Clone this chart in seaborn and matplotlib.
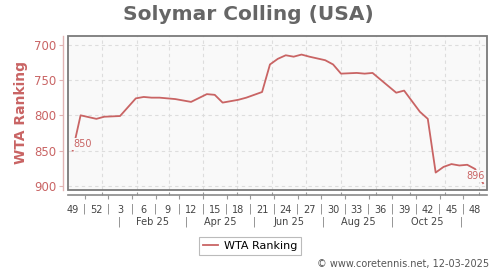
import numpy as np
import pandas as pd
import matplotlib
matplotlib.use("Agg")
import matplotlib.pyplot as plt
import matplotlib.transforms as mtransforms
from matplotlib.patches import Rectangle
from matplotlib.lines import Line2D
import seaborn as sns

# ---------------- data ----------------
player = "Solymar Colling (USA)"
start_date = "2024-12-06"          # week 49 of 2024
week_offsets = [0, 1, 3, 4, 6, 8, 9, 10, 11, 13, 15, 17, 18, 19, 21, 22, 24, 25,
                26, 27, 28, 29, 30, 32, 33, 34, 36, 37, 38, 41, 42, 44, 45, 46,
                47, 48, 49, 50, 51, 52]
rankings = [850, 800, 805, 802, 801, 776, 774, 775, 775, 777, 781, 770, 771, 782,
            778, 775, 767, 728, 720, 715, 717, 714, 717, 722, 728, 741, 740, 741,
            740, 768, 765, 795, 805, 881, 873, 869, 871, 870, 876, 896]
week_labels = ["49", "52", "3", "6", "9", "12", "15", "18", "21", "24", "27",
               "30", "33", "36", "39", "42", "45", "48"]
month_labels = ["Feb 25", "Apr 25", "Jun 25", "Aug 25", "Oct 25"]
y_ticks = [700, 750, 800, 850, 900]
series_name = "WTA Ranking"
footer = "\u00a9 www.coretennis.net, 12-03-2025"

# ---------------- styling ----------------
RED = "#c96464"
PINK = "#e2b4b4"
GRID = "#dddddd"
FRAME = "#7a7a7a"

start = pd.Timestamp(start_date)
dates = start + pd.to_timedelta(np.array(week_offsets) * 7, unit="D")
df = pd.DataFrame({"date": dates, "rank": rankings})

fig = plt.figure(figsize=(5, 2.7), dpi=100)
W, H = 500, 270
ax = fig.add_axes([68.3 / W, 1 - 190 / H, (487.3 - 68.3) / W, (190 - 35.7) / H])
ax.set_facecolor("#f9f9f9")

sns.lineplot(data=df, x="date", y="rank", ax=ax, color=RED, lw=1.3,
             legend=False, zorder=3)

# axis ranges
ax.set_xlim(start - pd.Timedelta(days=3.9), start + pd.Timedelta(days=367.8))
ax.set_ylim(905.7, 687.3)

# y axis
ax.set_yticks(y_ticks)
ax.set_yticklabels([str(v) for v in y_ticks])
ax.tick_params(axis="y", colors=PINK, labelcolor=RED, labelsize=8.5, length=3,
               width=0.8, pad=2)
ax.spines["left"].set_position(("outward", 3.6))
ax.spines["left"].set_color(PINK)
ax.spines["left"].set_linewidth(1.0)
ax.grid(axis="y", color=GRID, ls=(0, (3, 3)), lw=0.8)

# month grid lines
month_starts = pd.date_range("2025-01-01", "2025-12-01", freq="MS")
for m in month_starts:
    ax.axvline(m, color=GRID, ls=(0, (3, 3)), lw=0.8, zorder=1)

# x axis: week labels with separators
week_pos = [start + pd.Timedelta(days=21 * k) for k in range(len(week_labels))]
sep_pos = [start + pd.Timedelta(days=21 * k + 10.5) for k in range(len(week_labels) - 1)]
ax.set_xticks(week_pos)
ax.set_xticklabels(week_labels)
ax.set_xticks(sep_pos, minor=True)
ax.set_xticklabels(["|"] * len(sep_pos), minor=True)
ax.tick_params(axis="x", which="major", length=0, labelsize=7, labelcolor="#444444", pad=7)
ax.tick_params(axis="x", which="minor", length=3, width=0.8, color="#999999",
               labelsize=7, labelcolor="#777777", pad=3)
ax.spines["bottom"].set_position(("outward", 3.6))
ax.spines["bottom"].set_color("#8a8a8a")
ax.spines["bottom"].set_linewidth(1.2)
ax.spines["top"].set_visible(False)
ax.spines["right"].set_visible(False)
ax.set_xlabel("")
ax.set_ylabel("")

# small up-ticks at month starts on the lower axis line
trans = mtransforms.blended_transform_factory(ax.transData, ax.transAxes)
ax.vlines(month_starts, -5 / 154.3, -2 / 154.3, transform=trans, color="#999999",
          lw=0.8, clip_on=False)

# month row
mid = [m + pd.Timedelta(days=m.days_in_month / 2) for m in month_starts]
for i, m in enumerate(mid[:-1]):
    if i % 2 == 0:
        ax.text(m, -0.205, "|", transform=trans, ha="center", va="center",
                fontsize=7, color="#777777")
    else:
        ax.text(m, -0.205, month_labels[i // 2], transform=trans, ha="center",
                va="center", fontsize=7, color="#444444")

# frame
ax.add_patch(Rectangle((0, 0), 1, 1, transform=ax.transAxes, fill=False,
                       ec=FRAME, lw=1.3, clip_on=False, zorder=6))

# first / last value labels
ax.annotate(str(rankings[0]), xy=(dates[0], rankings[0]), xytext=(0.3, 5),
            textcoords="offset points", ha="left", va="center", fontsize=7,
            color=RED, zorder=5,
            bbox=dict(boxstyle="square,pad=0.1", fc="#f9f9f9", ec="none"))
ax.annotate(str(rankings[-1]), xy=(dates[-1], rankings[-1]), xytext=(1.2, 5),
            textcoords="offset points", ha="right", va="center", fontsize=7,
            color=RED, zorder=5,
            bbox=dict(boxstyle="square,pad=0.1", fc="#f9f9f9", ec="none"))

# titles and labels
fig.text(0.497, 1 - 14 / H, player, ha="center", va="center", fontsize=14.5,
         fontweight="bold", color="#666666")
fig.text(21 / W, 1 - 112.5 / H, series_name, ha="center", va="center",
         rotation=90, fontsize=10, fontweight="bold", color=RED)

handle = Line2D([], [], color=RED, lw=1.3)
leg = fig.legend([handle], [series_name], loc="center",
                 bbox_to_anchor=(250 / W, 1 - 246 / H), fontsize=8,
                 frameon=True, fancybox=False, edgecolor="#aaaaaa",
                 handlelength=1.4, handletextpad=0.5, borderpad=0.35)
leg.get_frame().set_linewidth(0.8)

fig.text(489 / W, 1 - 264 / H, footer, ha="right", va="center", fontsize=7,
         color="#555555")

fig.savefig("out.png", dpi=100)
